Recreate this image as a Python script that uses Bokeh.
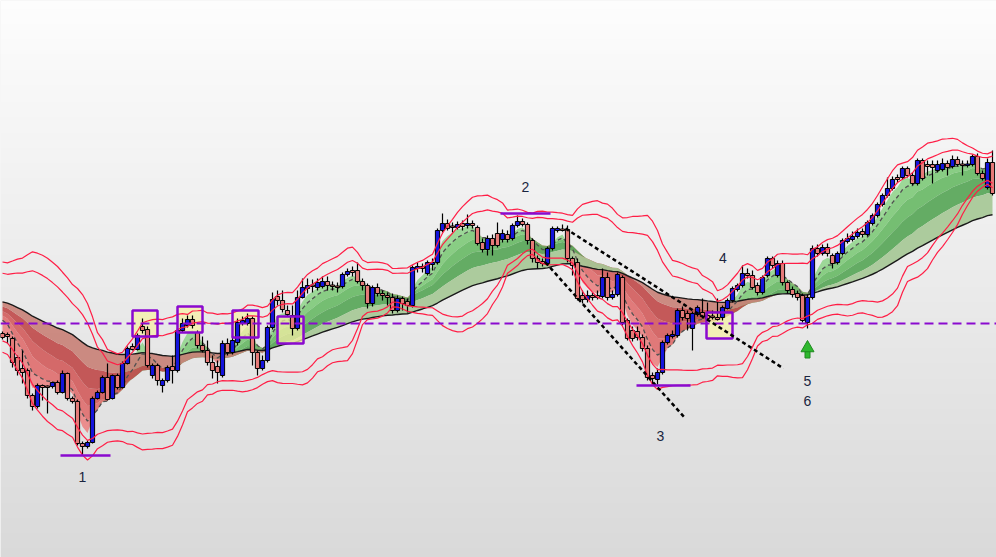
import numpy as np
from bokeh.plotting import figure
from bokeh.models import Range1d, Label
from bokeh.embed import file_html
from bokeh.resources import INLINE

# ---------------- data (price units) ----------------
open_ = [227, 226, 222, 203, 192, 190, 165, 154, 175, 174,
         174, 178, 168, 187, 162, 159, 117, 114, 118, 162,
         168, 183, 162, 185, 173, 197, 214, 211, 234, 231,
         185, 195, 175, 180, 194, 190, 230, 235, 241, 228,
         215, 210, 198, 194, 185, 217, 208, 218, 237, 237,
         242, 208, 192, 200, 233, 264, 260, 250, 245, 232,
         263, 272, 275, 273, 274, 279, 275, 274, 274, 286,
         290, 290, 279, 275, 257, 273, 267, 265, 263, 250,
         262, 259, 255, 292, 294, 287, 296, 298, 330, 337,
         334, 333, 337, 335, 337, 333, 318, 311, 322, 327,
         321, 326, 322, 335, 339, 336, 320, 302, 299, 297,
         312, 330, 331, 331, 302, 298, 265, 261, 265, 265,
         264, 283, 263, 266, 283, 240, 230, 229, 223, 212,
         185, 181, 188, 218, 224, 225, 250, 247, 232, 246,
         248, 245, 244, 243, 243, 252, 260, 271, 275, 287,
         285, 275, 268, 285, 302, 285, 297, 278, 271, 267,
         265, 238, 263, 312, 307, 313, 305, 298, 307, 319,
         321, 324, 329, 326, 337, 345, 356, 365, 372, 383,
         383, 392, 385, 377, 400, 396, 396, 390, 391, 397,
         394, 401, 396, 395, 396, 404, 387, 373, 398]
high = [229, 228, 224, 205, 210, 192, 167, 177, 176, 175,
        179, 180, 190, 188, 164, 161, 119, 120, 164, 170,
        185, 197, 186, 187, 199, 214, 217, 227, 242, 234,
        197, 197, 182, 195, 205, 232, 242, 245, 245, 230,
        224, 220, 205, 200, 220, 222, 225, 242, 244, 247,
        244, 210, 205, 235, 268, 270, 270, 255, 255, 270,
        282, 282, 281, 282, 284, 284, 279, 278, 288, 292,
        294, 298, 282, 277, 275, 277, 270, 268, 267, 265,
        264, 262, 295, 298, 297, 300, 302, 332, 347, 341,
        338, 339, 340, 346, 340, 335, 322, 325, 326, 338,
        331, 330, 337, 345, 342, 338, 322, 305, 302, 314,
        334, 334, 336, 335, 304, 302, 270, 270, 268, 270,
        292, 288, 270, 288, 285, 242, 234, 234, 226, 215,
        188, 192, 220, 227, 230, 252, 254, 250, 249, 255,
        262, 258, 250, 262, 255, 262, 274, 277, 295, 292,
        290, 278, 285, 304, 304, 300, 300, 280, 274, 270,
        267, 266, 315, 316, 316, 317, 307, 309, 322, 327,
        329, 332, 332, 340, 347, 358, 367, 383, 384, 386,
        394, 394, 388, 402, 402, 400, 400, 400, 402, 400,
        405, 404, 400, 400, 406, 407, 390, 402, 410]
low = [221, 217, 193, 185, 177, 162, 150, 152, 160, 147,
       172, 166, 167, 160, 157, 115, 105, 112, 117, 161,
       167, 160, 161, 171, 172, 196, 210, 210, 227, 193,
       182, 175, 168, 178, 177, 188, 228, 233, 232, 212,
       208, 195, 182, 177, 183, 205, 206, 215, 235, 235,
       195, 185, 190, 198, 231, 255, 248, 244, 225, 230,
       262, 267, 268, 270, 272, 270, 270, 268, 272, 284,
       284, 277, 270, 252, 254, 264, 260, 255, 247, 248,
       250, 248, 253, 288, 288, 285, 290, 296, 328, 330,
       328, 331, 330, 332, 332, 315, 308, 305, 305, 313,
       318, 318, 320, 333, 334, 316, 298, 292, 294, 295,
       310, 328, 329, 298, 285, 260, 257, 258, 260, 261,
       262, 260, 261, 264, 235, 220, 219, 220, 209, 180,
       175, 176, 186, 216, 222, 223, 240, 230, 210, 244,
       242, 240, 241, 240, 240, 251, 258, 269, 273, 282,
       271, 265, 266, 283, 292, 283, 275, 267, 263, 260,
       238, 232, 261, 304, 305, 304, 292, 296, 305, 317,
       319, 322, 323, 324, 335, 343, 354, 363, 370, 378,
       381, 383, 375, 375, 380, 385, 377, 388, 389, 385,
       392, 394, 385, 393, 394, 385, 380, 371, 365]
close = [223, 224, 198, 190, 188, 165, 154, 175, 173, 173,
         178, 168, 187, 162, 159, 117, 114, 118, 162, 168,
         183, 161, 185, 173, 197, 212, 211, 225, 230, 195,
         195, 180, 180, 193, 190, 230, 237, 241, 235, 215,
         210, 198, 190, 188, 217, 208, 220, 238, 240, 242,
         208, 192, 200, 233, 261, 260, 251, 246, 232, 263,
         273, 275, 274, 278, 279, 275, 274, 273, 286, 289,
         288, 279, 275, 257, 273, 267, 265, 263, 250, 262,
         257, 255, 293, 294, 292, 298, 298, 330, 337, 332,
         333, 336, 334, 337, 335, 317, 311, 322, 315, 315,
         327, 321, 335, 339, 336, 320, 302, 298, 297, 312,
         332, 332, 330, 302, 295, 262, 261, 265, 263, 263,
         283, 263, 266, 286, 238, 222, 222, 223, 212, 183,
         182, 188, 218, 225, 226, 250, 243, 242, 247, 253,
         244, 242, 243, 241, 253, 260, 272, 275, 287, 285,
         273, 268, 283, 302, 295, 297, 278, 270, 266, 263,
         240, 263, 312, 307, 313, 307, 297, 307, 320, 322,
         324, 328, 326, 338, 345, 356, 365, 372, 381, 381,
         392, 385, 377, 400, 382, 394, 393, 396, 397, 393,
         401, 396, 395, 396, 404, 387, 382, 398, 367]

ema_periods = [4, 7, 12, 20, 33, 55]
ema_start = [230, 246, 249, 252, 256, 260]
bb_period = 20
bb_start_mean = 255
bb_start_sd = 22
bb_mults = [1.5, 2.0]

support_level = 237

# annotation boxes (candle index span, price span)
box_left = [26.0, 35.0, 46.0, 55.0, 140.8]
box_right = [31.0, 40.0, 51.2, 60.2, 146.0]
box_top = [250, 254, 250, 244, 248]
box_bottom = [224, 228, 223, 217, 222]

# short horizontal marks
mark_x0 = [11.6, 99.6, 126.8]
mark_x1 = [21.6, 109.6, 137.6]
mark_y = [105, 347, 175]

# dotted trend lines
trend_x0 = [112.6, 108.6]
trend_y0 = [332, 298]
trend_x1 = [156.2, 136.6]
trend_y1 = [192, 142]

# labels
label_text = ["1", "2", "3", "4", "5", "6"]
label_x = [16.0, 104.6, 131.6, 144.1, 161.0, 161.0]
label_y = [84, 374, 125, 303, 180, 160]

arrow_x = 161.0
arrow_y = 212.5

# ---------------- computations ----------------
o = np.array(open_, float)
h = np.array(high, float)
l = np.array(low, float)
c = np.array(close, float)
n = len(c)
assert len(o) == n and len(h) == n and len(l) == n, (len(o), len(h), len(l), n)
x = np.arange(n, dtype=float)

def ema(vals, period, start):
    a = 2.0 / (period + 1)
    out = np.empty_like(vals)
    prev = start
    for i, v in enumerate(vals):
        prev = prev + a * (v - prev)
        out[i] = prev
    return out

emas = [ema(c, p, s) for p, s in zip(ema_periods, ema_start)]

bb_mid = np.empty(n)
bb_sd = np.empty(n)
for i in range(n):
    real = c[max(0, i - bb_period + 1): i + 1]
    k = bb_period - len(real)
    s1 = k * bb_start_mean + real.sum()
    s2 = k * (bb_start_sd ** 2 + bb_start_mean ** 2) + (real ** 2).sum()
    m = s1 / bb_period
    bb_mid[i] = m
    bb_sd[i] = np.sqrt(max(s2 / bb_period - m * m, 0.0))


def ribbon_polys(xv, a, b):
    xv = [float(v) for v in xv]
    a = [float(v) for v in a]
    b = [float(v) for v in b]
    pos, neg = [], []
    d = [ai - bi for ai, bi in zip(a, b)]
    cx, ca, cb = [xv[0]], [a[0]], [b[0]]
    sign = d[0] >= 0
    for i in range(1, len(xv)):
        s = d[i] >= 0
        if s != sign:
            t = d[i - 1] / (d[i - 1] - d[i])
            xc = xv[i - 1] + t * (xv[i] - xv[i - 1])
            yc = a[i - 1] + t * (a[i] - a[i - 1])
            cx.append(xc); ca.append(yc); cb.append(yc)
            (pos if sign else neg).append((cx + cx[::-1], ca + cb[::-1]))
            cx, ca, cb = [xc], [yc], [yc]
            sign = s
        cx.append(xv[i]); ca.append(a[i]); cb.append(b[i])
    (pos if sign else neg).append((cx + cx[::-1], ca + cb[::-1]))
    return pos, neg

# ---------------- figure ----------------
X0, X1 = -0.4, 198.8
Y0, Y1 = 3.0, 560.0
p = figure(width=996, height=557, x_range=Range1d(X0, X1), y_range=Range1d(Y0, Y1),
           output_backend="svg", toolbar_location=None, min_border=0,
           x_axis_location=None, y_axis_location=None)
p.grid.visible = False
p.outline_line_color = None
p.background_fill_color = "#eeeeee"
p.border_fill_color = "#eeeeee"

# background gradient
H = 256
img = np.empty((H, 2), dtype=np.uint32)
view = img.view(dtype=np.uint8).reshape((H, 2, 4))
for r in range(H):
    t = r / (H - 1)
    g = int(round(217 + (253 - 217) * t))
    view[r, :, 0] = g
    view[r, :, 1] = g
    view[r, :, 2] = g
    view[r, :, 3] = 255
p.image_rgba(image=[img], x=X0, y=Y0, dw=X1 - X0, dh=Y1 - Y0)

# ribbons
greens = ["#96d690", "#80ca7b", "#6aba67", "#58a658", "#a6c896"]
reds = ["#ea8686", "#e07070", "#d25e5e", "#c04c4c", "#c98278"]
for k in range(len(emas) - 1):
    pos, neg = ribbon_polys(x, emas[k], emas[k + 1])
    if pos:
        p.patches([pp[0] for pp in pos], [pp[1] for pp in pos], fill_color=greens[k],
                  fill_alpha=0.92, line_color=None)
    if neg:
        p.patches([pp[0] for pp in neg], [pp[1] for pp in neg], fill_color=reds[k],
                  fill_alpha=0.92, line_color=None)

# long average and fast dashed average
p.line(x, emas[-1], line_color="#1a1a1a", line_width=1.4)
p.line(x, emas[1], line_color="#505050", line_width=1.3, line_dash="4 3")

# boxes (fill)
p.quad(left=box_left, right=box_right, top=box_top, bottom=box_bottom,
       fill_color="#f6f0a6", fill_alpha=0.75, line_color=None)

# candles
up = c >= o
body_top = np.maximum(o, c)
body_bot = np.minimum(o, c)
small = (body_top - body_bot) < 1.5
body_top = np.where(small, body_bot + 1.5, body_top)
p.segment(x0=x, y0=l, x1=x, y1=h, line_color="#000000", line_width=1.2)
p.vbar(x=x[up], top=body_top[up], bottom=body_bot[up], width=0.84,
       fill_color="#1414dc", line_color="#000000", line_width=1)
p.vbar(x=x[~up], top=body_top[~up], bottom=body_bot[~up], width=0.84,
       fill_color="#e57a78", line_color="#000000", line_width=1)

# bollinger style envelopes
for m in bb_mults:
    p.line(x, bb_mid + m * bb_sd, line_color="#ff1e46", line_width=1.2)
    p.line(x, bb_mid - m * bb_sd, line_color="#ff1e46", line_width=1.2)

# support level
p.line([X0, X1], [support_level, support_level], line_color="#8a0acf",
       line_width=2, line_dash="9 5")

# box borders
p.quad(left=box_left, right=box_right, top=box_top, bottom=box_bottom,
       fill_alpha=0, line_color="#8a0acf", line_width=2.5)

# trend lines
p.segment(x0=trend_x0, y0=trend_y0, x1=trend_x1, y1=trend_y1,
          line_color="#000000", line_width=2.5, line_dash="4 3")

# short horizontal marks
p.segment(x0=mark_x0, y0=mark_y, x1=mark_x1, y1=mark_y,
          line_color="#8a0acf", line_width=2.5)

# labels
for t, lx, ly in zip(label_text, label_x, label_y):
    p.add_layout(Label(x=lx, y=ly, text=t, text_align="center", text_baseline="middle",
                       text_font="Liberation Sans", text_font_size="14px",
                       text_color="#1a2540"))

# green up arrow
p.rect(x=[arrow_x], y=[arrow_y - 6.5], width=5, height=7, width_units="screen",
       height_units="screen", fill_color="#2eb82e", line_color="#1e8a1e", line_width=1)
p.scatter(x=[arrow_x], y=[arrow_y], marker="triangle", size=13,
          fill_color="#2eb82e", line_color="#1e8a1e", line_width=1)

open("out.html", "w").write(file_html(p, INLINE))
